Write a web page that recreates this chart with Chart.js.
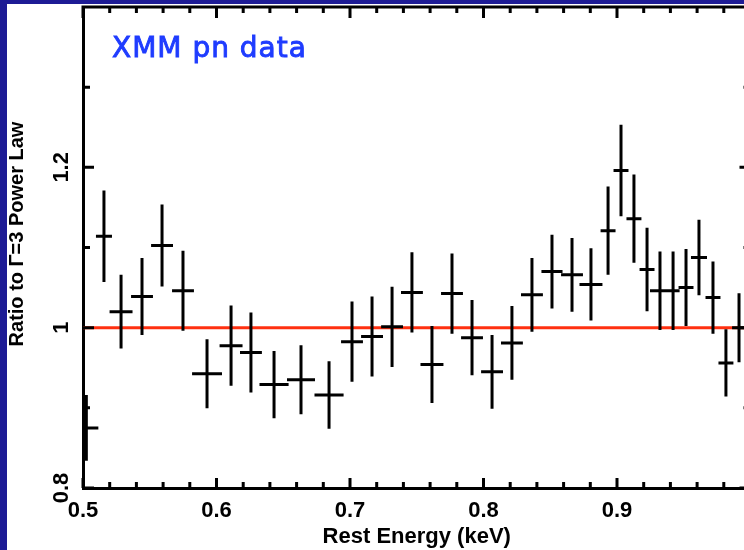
<!DOCTYPE html>
<html><head><meta charset="utf-8">
<script src="https://cdn.jsdelivr.net/npm/chart.js@4.4.0/dist/chart.umd.min.js"></script>
<style>
html,body{margin:0;padding:0;width:744px;height:550px;overflow:hidden;background:#1d1b95;}
#panel{position:absolute;left:7px;top:4px;width:800px;height:600px;background:#ffffff;}
#wrap{position:absolute;left:0;top:0;width:770px;height:550px;}
canvas{display:block;}
</style></head><body>
<div id="panel"></div>
<div id="wrap"><canvas id="c" width="770" height="550"></canvas></div>
<script>
// ---- data ----
const energy    = [0.5025,0.5157,0.5285,0.5442,0.5592,0.5749,0.5929,0.6109,0.6258,0.6431,0.6633,0.6843,
                   0.7015,0.7165,0.7315,0.7464,0.7614,0.7764,0.7914,0.8064,0.8213,0.8363,0.8513,0.8663,
                   0.8805,0.8933,0.9030,0.9127,0.9225,0.9322,0.9420,0.9517,0.9614,0.9719,0.9816,0.9914];
const energyErr = [0.0090,0.0060,0.0086,0.0082,0.0082,0.0082,0.0112,0.0086,0.0082,0.0109,0.0105,0.0109,
                   0.0082,0.0082,0.0082,0.0082,0.0086,0.0082,0.0082,0.0082,0.0082,0.0082,0.0079,0.0082,
                   0.0086,0.0056,0.0056,0.0056,0.0056,0.0075,0.0049,0.0056,0.0060,0.0056,0.0056,0.0052];
const ratio     = [0.875,1.114,1.020,1.039,1.1025,1.046,0.9425,0.9775,0.969,0.929,0.935,0.916,
                   0.9825,0.989,1.001,1.044,0.954,1.0425,0.9875,0.945,0.981,1.041,1.070,1.066,
                   1.054,1.121,1.196,1.136,1.0725,1.046,1.046,1.050,1.0875,1.0375,0.956,1.000];
const ratioErr  = [0.041,0.057,0.046,0.048,0.051,0.050,0.043,0.050,0.050,0.042,0.043,0.042,
                   0.050,0.050,0.050,0.050,0.048,0.050,0.047,0.046,0.046,0.046,0.046,0.046,
                   0.045,0.055,0.057,0.055,0.052,0.049,0.049,0.048,0.047,0.045,0.042,0.043];
const modelLevel = 1.0;
const xRange = [0.5, 1.0];
const yRange = [0.8, 1.4];
const xMajorTicks = [0.5,0.6,0.7,0.8,0.9,1.0];
const xMinorTicks = [0.52,0.54,0.56,0.58,0.62,0.64,0.66,0.68,0.72,0.74,0.76,0.78,0.82,0.84,0.86,0.88,0.92,0.94,0.96,0.98];
const xTickLabels = ['0.5','0.6','0.7','0.8','0.9','1'];
const yMajorTicks = [0.8,1.0,1.2,1.4];
const yMinorTicks = [0.9,1.1,1.3];
const yTickLabels = ['0.8','1','1.2',''];
const xTitle = 'Rest Energy (keV)';
const yTitle = 'Ratio to \u0393=3 Power Law';
const noteText = 'XMM pn data';

// error-bar segments (gaps separate the pieces)
const errPts = [];
energy.forEach((e, i) => {
  const r = ratio[i], dx = energyErr[i], dy = ratioErr[i];
  errPts.push({x: e - dx, y: r}, {x: e + dx, y: r}, {x: e, y: null});
  errPts.push({x: e, y: r - dy}, {x: e, y: r + dy}, {x: e, y: null});
});

const FONT = 'Liberation Sans, Arial, sans-serif';

const framePlugin = {
  id: 'frame',
  afterDraw(chart) {
    const {ctx, chartArea: a, scales: {x, y}} = chart;
    ctx.save();
    ctx.strokeStyle = '#000';
    ctx.lineWidth = 3;
    ctx.lineCap = 'butt';
    ctx.beginPath();
    // top and right frame
    ctx.moveTo(a.left - 1.5, a.top); ctx.lineTo(a.right, a.top);
    ctx.moveTo(a.right, a.top); ctx.lineTo(a.right, a.bottom);
    // x ticks
    xMajorTicks.forEach(v => { const p = x.getPixelForValue(v);
      ctx.moveTo(p, a.bottom); ctx.lineTo(p, a.bottom - 10);
      ctx.moveTo(p, a.top); ctx.lineTo(p, a.top + 11); });
    xMinorTicks.forEach(v => { const p = x.getPixelForValue(v);
      ctx.moveTo(p, a.bottom); ctx.lineTo(p, a.bottom - 6);
      ctx.moveTo(p, a.top); ctx.lineTo(p, a.top + 6); });
    // y ticks
    yMajorTicks.forEach(v => { const p = y.getPixelForValue(v);
      ctx.moveTo(a.left, p); ctx.lineTo(a.left + 11, p);
      ctx.moveTo(a.right, p); ctx.lineTo(a.right - 11, p); });
    yMinorTicks.forEach(v => { const p = y.getPixelForValue(v);
      ctx.moveTo(a.left, p); ctx.lineTo(a.left + 7, p);
      ctx.moveTo(a.right, p); ctx.lineTo(a.right - 7, p); });
    ctx.stroke();
    // y title
    ctx.fillStyle = '#000';
    ctx.font = 'bold 20px ' + FONT;
    ctx.textAlign = 'center';
    ctx.textBaseline = 'middle';
    ctx.translate(a.left - 66, a.top + 227);
    ctx.rotate(-Math.PI / 2);
    ctx.fillText(yTitle, 0, 0);
    ctx.restore();
    // note
    ctx.save();
    ctx.fillStyle = '#1f3cff';
    ctx.strokeStyle = '#1f3cff';
    ctx.lineWidth = 0.9;
    ctx.font = '28px DejaVu Sans, sans-serif';
    if ('letterSpacing' in ctx) ctx.letterSpacing = '1px';
    ctx.textAlign = 'left';
    ctx.textBaseline = 'alphabetic';
    ctx.fillText(noteText, a.left + 29, a.top + 50);
    ctx.strokeText(noteText, a.left + 29, a.top + 50);
    ctx.restore();
  }
};

new Chart(document.getElementById('c'), {
  type: 'scatter',
  data: {
    datasets: [
      { data: errPts, showLine: true, spanGaps: false, borderColor: '#000', borderWidth: 3,
        pointRadius: 0, borderCapStyle: 'butt', tension: 0, order: 1 },
      { data: [{x: xRange[0], y: modelLevel}, {x: xRange[1], y: modelLevel}], showLine: true,
        borderColor: '#ff3010', borderWidth: 3, pointRadius: 0, order: 2 }
    ]
  },
  options: {
    responsive: false,
    animation: false,
    devicePixelRatio: 1,
    layout: { padding: { left: 0, top: 7, right: 19.5, bottom: 0 } },
    plugins: { legend: { display: false }, tooltip: { enabled: false } },
    scales: {
      x: {
        type: 'linear', position: 'bottom', min: xRange[0], max: xRange[1],
        afterBuildTicks: s => { s.ticks = xMajorTicks.map(v => ({value: v})); },
        afterFit: s => { s.height = 62; s.paddingLeft = 0; s.paddingRight = 0; },
        grid: { display: false, drawTicks: false },
        border: { display: true, color: '#000', width: 3 },
        ticks: {
          padding: 10, color: '#000', font: { family: FONT, size: 22, weight: 'bold' },
          maxRotation: 0, autoSkip: false,
          callback: v => xTickLabels[xMajorTicks.findIndex(t => Math.abs(t - v) < 1e-9)]
        },
        title: { display: true, text: xTitle, color: '#000',
          font: { family: FONT, size: 22, weight: 'bold', lineHeight: 1 }, padding: { top: 0, bottom: 2 } }
      },
      y: {
        type: 'linear', min: yRange[0], max: yRange[1],
        afterBuildTicks: s => { s.ticks = yMajorTicks.map(v => ({value: v})); },
        afterFit: s => { s.width = 83; s.paddingTop = 0; s.paddingBottom = 0; },
        grid: { display: false, drawTicks: false },
        border: { display: true, color: '#000', width: 3 },
        ticks: {
          padding: 6, color: '#000', font: { family: FONT, size: 22, weight: 'bold' },
          minRotation: 90, maxRotation: 90, crossAlign: 'center', autoSkip: false,
          callback: v => yTickLabels[yMajorTicks.findIndex(t => Math.abs(t - v) < 1e-9)]
        }
      }
    }
  },
  plugins: [framePlugin]
});
</script>
</body></html>
